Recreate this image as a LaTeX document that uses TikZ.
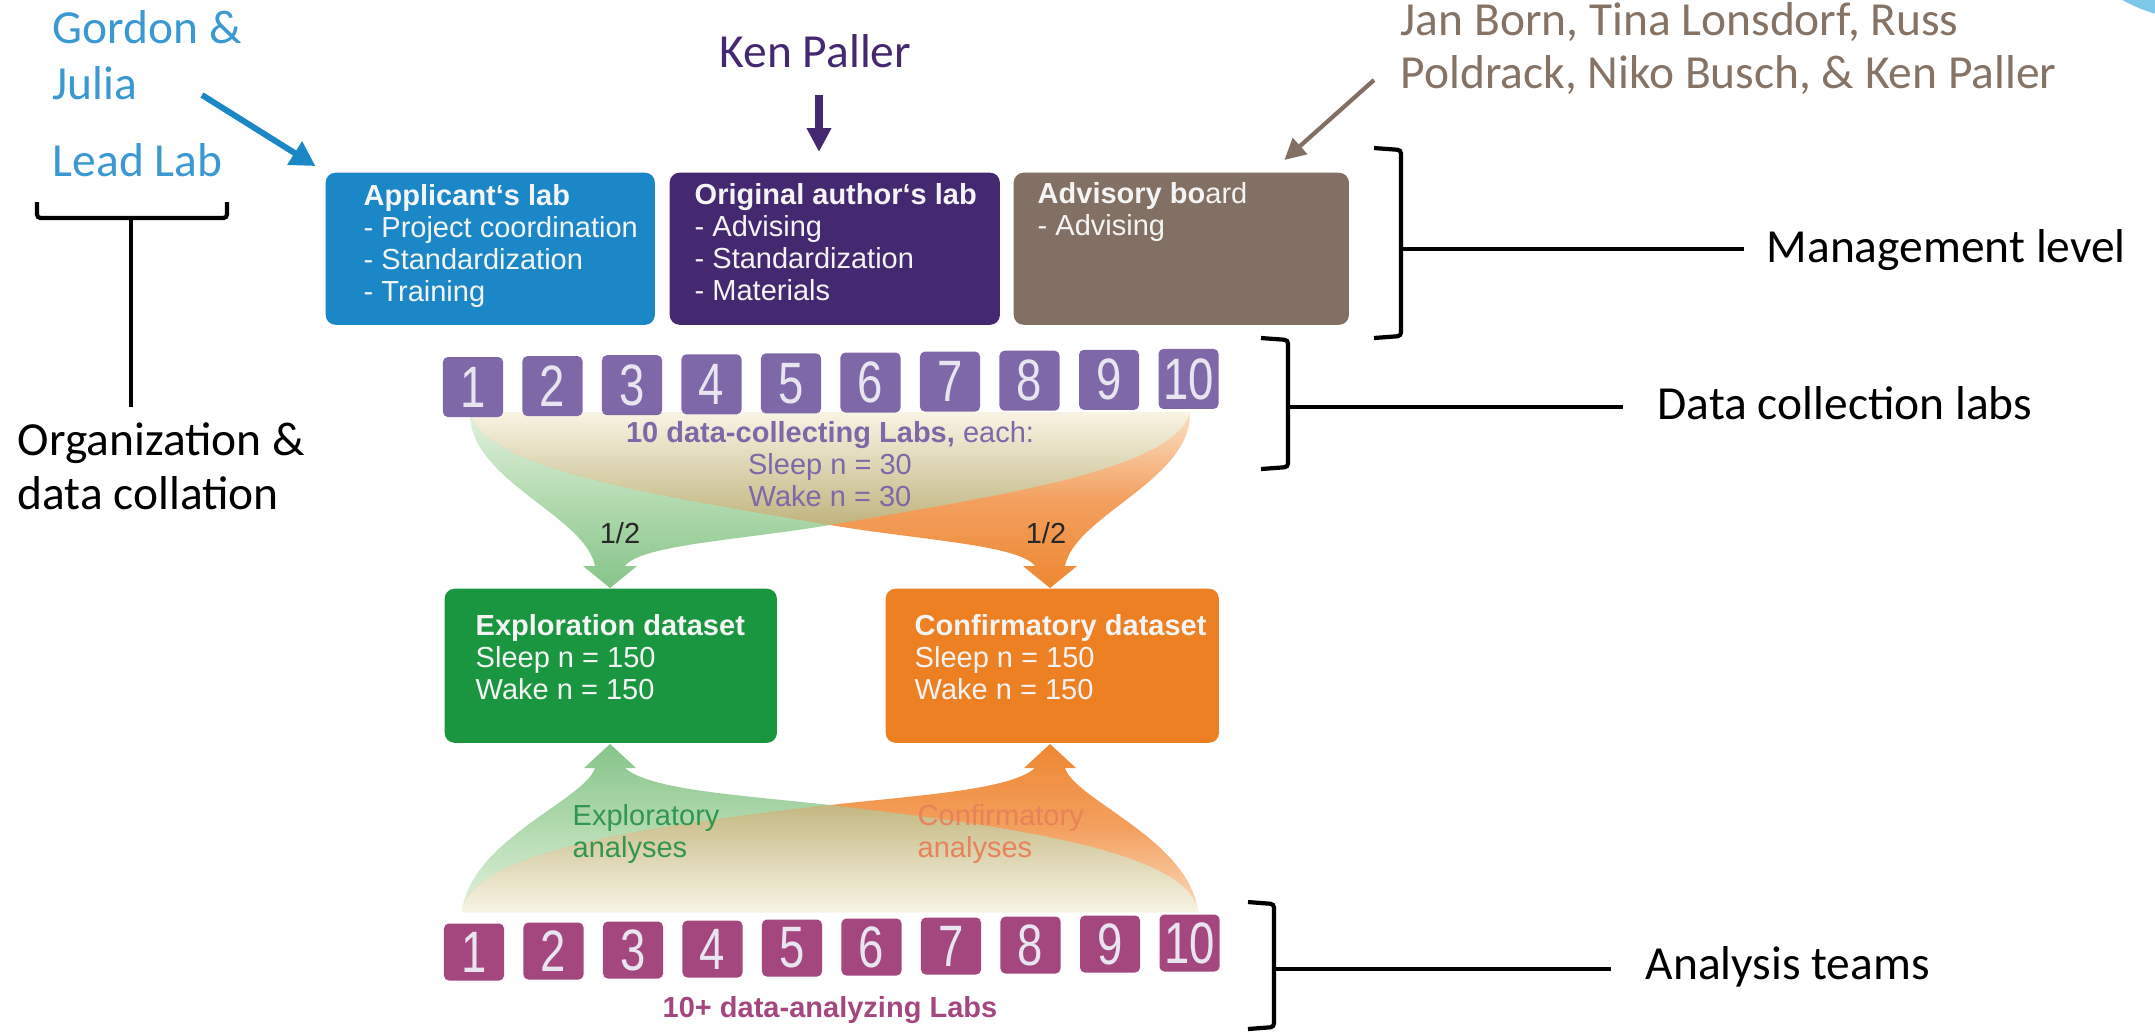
\documentclass[tikz,border=0pt]{standalone}
\usepackage{fontspec}
\setmainfont{Carlito}
\newfontfamily\figfont{Liberation Sans}
\newfontfamily\numfont[FakeStretch=0.78]{Liberation Sans}
\usetikzlibrary{arrows.meta,positioning}

\definecolor{leadblue}{RGB}{58,152,211}
\definecolor{applblue}{RGB}{27,135,198}
\definecolor{origpurple}{RGB}{68,40,112}
\definecolor{advbrown}{RGB}{131,112,100}
\definecolor{advtext}{RGB}{133,115,101}
\definecolor{collpurple}{RGB}{126,104,168}
\definecolor{explgreen}{RGB}{26,150,64}
\definecolor{confirange}{RGB}{238,128,36}
\definecolor{anamagenta}{RGB}{165,71,127}
\definecolor{skycyan}{RGB}{125,200,232}
\definecolor{boxtext}{RGB}{244,244,244}
\definecolor{digit}{RGB}{232,228,240}
\definecolor{halfgray}{RGB}{40,40,40}
\definecolor{explanatext}{RGB}{50,150,80}
\definecolor{confanatext}{RGB}{232,130,90}

\tikzset{
  outer/.style={font=\fontsize{13.5}{16}\selectfont, inner sep=0pt},
  labbox/.style={rounded corners=2.8pt, inner sep=0pt, anchor=north west, minimum height=1.52cm},
  labtext/.style={font=\figfont\fontsize{8.25}{9.1}\selectfont, align=left, inner sep=0pt, anchor=north west},
  numbox/.style={fill=#1, rounded corners=1.4pt, minimum width=0.6cm, minimum height=0.6cm,
    inner sep=0pt, font=\numfont\fontsize{16.6}{18}\selectfont, text=digit},
  bracket/.style={line width=1.2pt, rounded corners=1pt},
}

\begin{document}
\begin{tikzpicture}[x=0.01cm, y=-0.01cm]
  \useasboundingbox (0,0) rectangle (2155,1032);

  % corner circle
  \begin{scope}
    \clip (0,0) rectangle (2155,1032);
    \fill[skycyan] (2200,-140) circle [radius=1.6cm];
  \end{scope}

  % upper fans
  \path[top color={rgb,255:red,228;green,241;blue,224}, bottom color={rgb,255:red,135;green,196;blue,138},
        middle color={rgb,255:red,178;green,218;blue,175}]
    (470,412) .. controls (468,480) and (585,515) .. (595,566) -- (583,566) -- (610,588) -- (637,566)
    -- (625,566) .. controls (640,545) and (740,540) .. (830,525)
    .. controls (1000,495) and (1175,470) .. (1190,412) -- cycle;
  \path[top color={rgb,255:red,251;green,224;blue,198}, bottom color={rgb,255:red,238;green,135;blue,50},
        middle color={rgb,255:red,243;green,160;blue,95}]
    (1190,412) .. controls (1192,480) and (1075,515) .. (1065,566) -- (1077,566) -- (1050,588) -- (1023,566)
    -- (1035,566) .. controls (1020,545) and (920,540) .. (830,525)
    .. controls (660,495) and (485,470) .. (470,412) -- cycle;
  \path[top color={rgb,255:red,248;green,244;blue,228}, bottom color={rgb,255:red,192;green,180;blue,126}]
    (470,412) .. controls (485,470) and (660,495) .. (830,525)
    .. controls (1000,495) and (1175,470) .. (1190,412) -- cycle;

  % lower fans
  \path[top color={rgb,255:red,135;green,196;blue,138}, bottom color={rgb,255:red,228;green,241;blue,224},
        middle color={rgb,255:red,178;green,218;blue,175}]
    (462,912) .. controls (470,840) and (585,800) .. (595,768) -- (584,768) -- (610,744) -- (636,768)
    -- (625,768) .. controls (650,790) and (740,795) .. (830,805)
    .. controls (1000,825) and (1190,850) .. (1198,912) -- cycle;
  \path[top color={rgb,255:red,238;green,135;blue,50}, bottom color={rgb,255:red,251;green,220;blue,190},
        middle color={rgb,255:red,243;green,160;blue,95}]
    (1198,912) .. controls (1190,840) and (1075,800) .. (1065,768) -- (1076,768) -- (1050,744) -- (1024,768)
    -- (1035,768) .. controls (1010,790) and (920,795) .. (830,805)
    .. controls (660,825) and (470,850) .. (462,912) -- cycle;
  \path[top color={rgb,255:red,196;green,184;blue,130}, bottom color={rgb,255:red,248;green,244;blue,228}]
    (462,912) .. controls (470,850) and (660,825) .. (830,805)
    .. controls (1000,825) and (1190,850) .. (1198,912) -- cycle;

  % management boxes
  \node[labbox, fill=applblue, minimum width=3.29cm] (applab) at (325,172) {};
  \node[labbox, fill=origpurple, minimum width=3.30cm] (origlab) at (669,172) {};
  \node[labbox, fill=advbrown, minimum width=3.35cm] (advlab) at (1013,172) {};
  \node[labtext, text=boxtext] (apptxt) at (363,184)
    {\textbf{Applicant‘s lab}\\- Project coordination\\- Standardization\\- Training};
  \node[labtext, text=boxtext] (origtxt) at (694,183)
    {\textbf{Original author‘s lab}\\- Advising\\- Standardization\\- Materials};
  \node[labtext, text=boxtext] (advtxt) at (1037,182) {\textbf{Advisory bo}ard\\- Advising};

  % lab rows
  \foreach \i in {1,...,10}{
    \node[numbox=collpurple] (coll\i) at ({473+(\i-1)*79.5}, {387-(\i-1)*0.9}) {\i};
    \node[numbox=anamagenta, minimum height=0.57cm] (ana\i) at ({474+(\i-1)*79.5}, {952-(\i-1)*1.0}) {\i};
  }
  \node[labtext, anchor=north, align=center, text=collpurple] (colltxt) at (830,421)
    {\textbf{10 data-collecting Labs,} each:\\Sleep n = 30\\Wake n = 30};
  \node[labtext, anchor=base, text=halfgray] (halfl) at (620,543) {1/2};
  \node[labtext, anchor=base, text=halfgray] (halfr) at (1046,543) {1/2};
  \node[labtext, anchor=base, text=anamagenta] (anatxt) at (830,1017) {\textbf{10+ data-analyzing Labs}};

  % datasets
  \node[labbox, fill=explgreen, minimum width=3.32cm, minimum height=1.54cm] (explset) at (444,588) {};
  \node[labbox, fill=confirange, minimum width=3.33cm, minimum height=1.54cm] (confset) at (885,588) {};
  \node[labtext, text=boxtext] (expltxt) at (475,614)
    {\textbf{Exploration dataset}\\Sleep n = 150\\Wake n = 150};
  \node[labtext, text=boxtext] (conftxt) at (914,614)
    {\textbf{Confirmatory dataset}\\Sleep n = 150\\Wake n = 150};
  \node[labtext, text=explanatext] (explana) at (572,804) {Exploratory\\analyses};
  \node[labtext, text=confanatext] (confana) at (917,804) {Confirmatory\\analyses};

  % names and arrows
  \node[outer, anchor=base west, text=leadblue] (gordon) at (52,43) {Gordon \&};
  \node[outer, anchor=base west, text=leadblue] (julia) at (52,99) {Julia};
  \node[outer, anchor=base west, text=leadblue] (leadlab) at (52,176) {Lead Lab};
  \node[outer, anchor=base west, text=origpurple] (kenp) at (719,67) {Ken Paller};
  \node[outer, anchor=base west, text=advtext] (board1) at (1400,35) {Jan Born, Tina Lonsdorf, Russ};
  \node[outer, anchor=base west, text=advtext] (board2) at (1400,88) {Poldrack, Niko Busch, \& Ken Paller};

  \coordinate (gordtail) at (202,95);
  \coordinate (kentail) at (819,95);
  \coordinate (advtail) at (1374,80);
  \coordinate (advtip) at ([xshift=1.03cm, yshift=0.12cm]advlab.north);
  \draw[applblue, line width=1.7pt, -{Triangle[width=7.5pt,length=7pt]}, shorten >=3.2pt]
    (gordtail) -- (applab.north west);
  \draw[origpurple, line width=2.3pt, -{Triangle[width=6.6pt,length=6.8pt]}, shorten >=5.7pt]
    (kentail) -- (kentail |- origlab.north);
  \draw[advbrown, line width=1.2pt, -{Triangle[width=6pt,length=6pt]}] (advtail) -- (advtip);

  % left bracket
  \draw[bracket] (37,202) -- (37,218) -- (227,218) -- (227,202);
  \coordinate (orgtop) at (131,218);
  \node[outer, anchor=base west] (organiz) at (17,455) {Organization \&};
  \node[outer, anchor=base west] (collat) at (17,509) {data collation};
  \draw[bracket] (orgtop) -- (131,407);

  % right brackets
  \node[outer, anchor=base west] (mgmt) at (1766,262) {Management level};
  \node[outer, anchor=base west] (colllabs) at (1657,419) {Data collection labs};
  \node[outer, anchor=base west] (anateams) at (1645,979) {Analysis teams};
  \draw[bracket] (1374,148) -- (1401,150) -- (1401,336) -- (1374,338);
  \draw[bracket] (1261,338) -- (1288,340) -- (1288,467) -- (1261,469);
  \draw[bracket] (1248,902) -- (1274,904) -- (1274,1027) -- (1248,1029);
  \coordinate (mgmtbr) at (1401,249);
  \coordinate (collbr) at (1288,407);
  \coordinate (anabr) at (1274,969);
  \draw[bracket] (mgmtbr) -- ([xshift=-0.22cm]mgmtbr -| mgmt.west);
  \draw[bracket] (collbr) -- ([xshift=-0.34cm]collbr -| colllabs.west);
  \draw[bracket] (anabr) -- ([xshift=-0.34cm]anabr -| anateams.west);
\end{tikzpicture}
\end{document}
